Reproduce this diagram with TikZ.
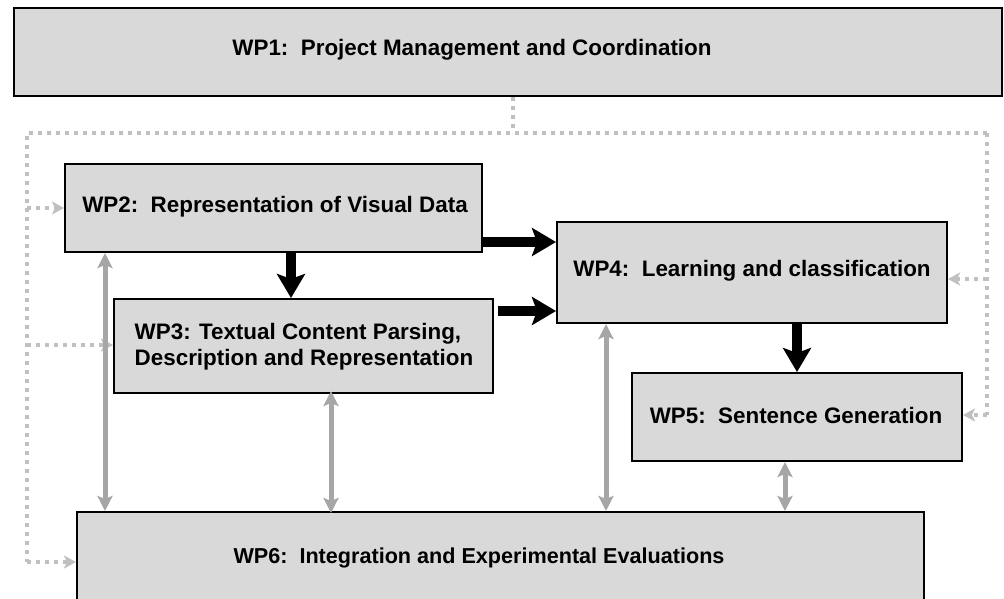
\documentclass[tikz,border=0pt]{standalone}
\usepackage{fontspec}
\setmainfont{Liberation Sans}
\usetikzlibrary{arrows.meta}
\definecolor{boxfill}{HTML}{D9D9D9}
\definecolor{dotgray}{HTML}{C0C0C0}
\definecolor{linkgray}{HTML}{A6A6A6}
\begin{document}
\begin{tikzpicture}[x=1pt,y=-1pt,
  wpbox/.style={draw=black,line width=2pt,fill=boxfill,inner sep=0pt},
  wplabel/.style={font=\fontsize{22.4}{26}\selectfont\bfseries,inner sep=0pt,align=left},
  flowarrow/.style={line width=10pt,-{Stealth[length=24pt,width=28pt,inset=5pt]}},
  linkarrow/.style={linkgray,line width=5pt,{Stealth[length=15pt,width=15pt,inset=3pt]}-{Stealth[length=15pt,width=15pt,inset=3pt]}},
  mgmtline/.style={dotgray,line width=4pt,dash pattern=on 4pt off 5pt},
  mgmtarrow/.style={mgmtline,-{Stealth[length=12pt,width=13pt,inset=3pt,sep=0pt]}}]
\useasboundingbox (0,0) rectangle (1004,598);
\clip (0,0) rectangle (1004,598);

% work package boxes
\node[wpbox,minimum width=988pt,minimum height=88pt] (wp1) at (508,52) {};
\node[wpbox,minimum width=417pt,minimum height=88pt] (wp2) at (273.5,208) {};
\node[wpbox,minimum width=379pt,minimum height=94pt] (wp3) at (303.5,346) {};
\node[wpbox,minimum width=390pt,minimum height=101pt] (wp4) at (752,272.5) {};
\node[wpbox,minimum width=330pt,minimum height=88pt] (wp5) at (797,417) {};
\node[wpbox,minimum width=847pt,minimum height=92pt] (wp6) at (500.5,558) {};

% box titles
\node[wplabel] (t1) at (472,50) {WP1:\ \ Project Management and Coordination};
\node[wplabel] (t2) at (275,207) {WP2:\ \ Representation of Visual Data};
\node[wplabel] (t3) at (304,347) {WP3: Textual Content Parsing,\\Description and Representation};
\node[wplabel] (t4) at (752,271) {WP4:\ \ Learning and classification};
\node[wplabel] (t5) at (796,415) {WP5:\ \ Sentence Generation};
\node[wplabel,font=\fontsize{21.6}{26}\selectfont\bfseries,anchor=base] (t6) at (479,563) {WP6:\ \ Integration and Experimental Evaluations};

% coordination lines from WP1
\coordinate (hub) at (513,133);
\coordinate (lefttop) at (27,133);
\coordinate (righttop) at (987,133);
\draw[mgmtline] (wp1.south -| hub) -- (hub);
\draw[mgmtline] (righttop) -- (lefttop) -- (27,562);
\draw[mgmtline] (righttop) -- (987,415);
\draw[mgmtarrow] (27,208) -- (wp2.west |- 0,208);
\draw[mgmtarrow] (27,345) -- (wp3.west |- 0,345);
\draw[mgmtarrow] (27,562) -- (wp6.west |- 0,562);
\draw[mgmtarrow] (987,279) -- (wp4.east |- 0,279);
\draw[mgmtarrow] (987,415) -- (wp5.east |- 0,415);

% data flow between work packages
\draw[flowarrow] (wp2.east |- 0,242) -- (wp4.west |- 0,242);
\draw[flowarrow] ([xshift=4pt]wp3.east |- 0,311) -- (wp4.west |- 0,311);
\draw[flowarrow] (wp2.south -| 291,0) -- (wp3.north -| 291,0);
\draw[flowarrow] (wp4.south -| 797,0) -- (wp5.north -| 797,0);

% links to integration
\draw[linkarrow] (wp2.south -| 105,0) -- (wp6.north -| 105,0);
\draw[linkarrow] ([yshift=3pt]wp3.south -| 331,0) -- ([yshift=-2pt]wp6.north -| 331,0);
\draw[linkarrow] (wp4.south -| 606,0) -- (wp6.north -| 606,0);
\draw[linkarrow] (wp5.south -| 785,0) -- (wp6.north -| 785,0);
\end{tikzpicture}
\end{document}
